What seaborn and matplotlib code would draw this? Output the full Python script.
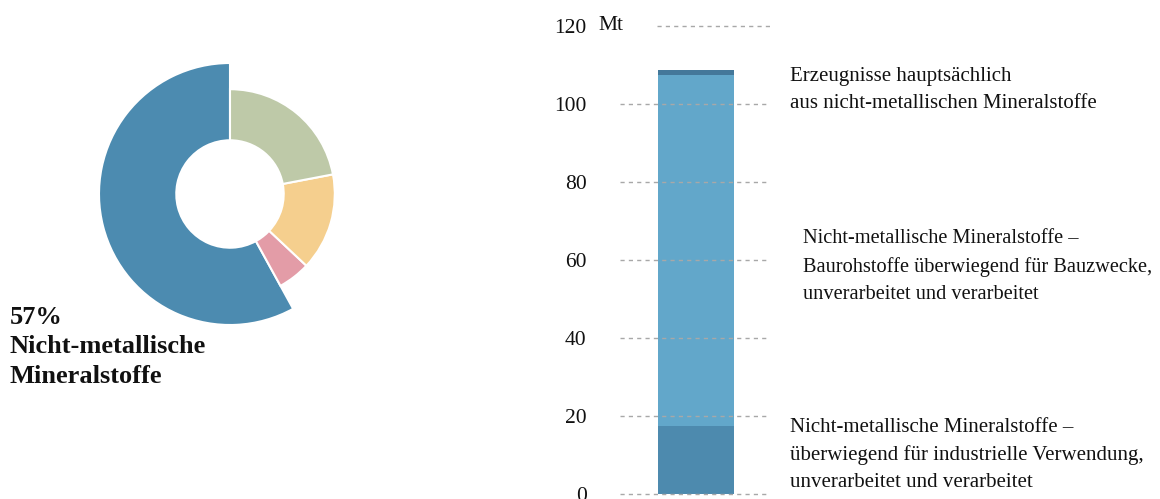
import numpy as np
import pandas as pd
import matplotlib.pyplot as plt
import seaborn as sns

# Donut: share of material groups (%), order counter-clockwise from 12 o'clock
donut_labels = ["Nicht-metallische Mineralstoffe", "Sonstige 1", "Sonstige 2", "Sonstige 3"]
donut_values = [58, 5, 15, 22]
donut_colors = ["#4c8bb0", "#e39ca7", "#f5cf8e", "#bec9a8"]
main_label = "57%\nNicht-metallische\nMineralstoffe"

# Stacked bar (Mt), bottom to top
bar_segments = ["industrielle Verwendung", "Baurohstoffe", "Erzeugnisse"]
bar_values = [17.4, 90.0, 1.3]
bar_colors = ["#4d8aae", "#62a7ca", "#44789a"]
y_ticks = [0, 20, 40, 60, 80, 100, 120]

seg_texts = [
    "Nicht-metallische Mineralstoffe –\nüberwiegend für industrielle Verwendung,\nunverarbeitet und verarbeitet",
    "Nicht-metallische Mineralstoffe –\nBaurohstoffe überwiegend für Bauzwecke,\nunverarbeitet und verarbeitet",
    "Erzeugnisse hauptsächlich\naus nicht-metallischen Mineralstoffe",
]

sns.set_style("white")
plt.rcParams['font.family'] = ['Liberation Serif', 'DejaVu Serif']

W, H = 1160, 499
fig = plt.figure(figsize=(W / 100, H / 100), dpi=100)

def px_box(x0, y0, x1, y1):
    # pixel box (top-left origin) -> figure fraction rect
    return [x0 / W, 1 - y1 / H, (x1 - x0) / W, (y1 - y0) / H]

# ---- Donut ----
cx, cy, r = 230, 194, 131
ax_d = fig.add_axes(px_box(cx - r, cy - r, cx + r, cy + r))
inner = 0.41
small = 0.80
big_cols = [donut_colors[0]] + ["none"] * 3
small_cols = ["none"] + donut_colors[1:]
ax_d.pie(donut_values, colors=big_cols, startangle=90, counterclock=True, radius=1.0,
         wedgeprops=dict(width=1.0 - inner, edgecolor="white", linewidth=1.5))
ax_d.pie(donut_values, colors=small_cols, startangle=90, counterclock=True, radius=small,
         wedgeprops=dict(width=small - inner, edgecolor="white", linewidth=1.5))
for p in ax_d.patches:
    if p.get_facecolor()[3] == 0:
        p.set_edgecolor("none")
ax_d.set_xlim(-1, 1)
ax_d.set_ylim(-1, 1)
ax_d.axis("off")

fig.text(10 / W, 1 - 306 / H, main_label, fontsize=19, fontweight="bold",
         ha="left", va="top", linespacing=1.36, color="#111111")

# ---- Stacked bar ----
ax = fig.add_axes(px_box(620, 26, 770, 494))
cum = np.cumsum(bar_values)
df = pd.DataFrame({"cat": ["gesamt"] * 3, "total": cum})
for i in range(len(cum) - 1, -1, -1):
    sns.barplot(data=df.iloc[[i]], x="cat", y="total", color=bar_colors[i],
                width=0.8, saturation=1, linewidth=0, edgecolor="none", ax=ax, zorder=1)
ax.set_xlim(-0.8, 0.779)
ax.set_ylim(0, 120)
ax.set_xlabel("")
ax.set_ylabel("")
ax.set_xticks([])
ax.set_yticks(y_ticks)
ax.set_yticklabels([str(t) for t in y_ticks], fontsize=15.5, color="#111111")
ax.tick_params(axis="y", length=0, pad=24)
for s in ax.spines.values():
    s.set_visible(False)
for t in y_ticks:
    x0 = 0.247 if t == 120 else 0.0
    ax.axhline(t, xmin=x0, xmax=0.98 if t < 120 else 1.0, color="#a8a8a8",
               linewidth=1, linestyle=(0, (3, 3)), zorder=3, clip_on=False)
fig.text(598 / W, 1 - 26 / H, "Mt", fontsize=15.5, ha="left", va="center", color="#111111")

# segment labels
fig.text(790 / W, 1 - 418 / H, seg_texts[0], fontsize=15, ha="left", va="top",
         linespacing=1.56, color="#111111")
fig.text(803 / W, 1 - 229 / H, seg_texts[1], fontsize=14.7, ha="left", va="top",
         linespacing=1.58, color="#111111")
fig.text(790 / W, 1 - 67 / H, seg_texts[2], fontsize=15, ha="left", va="top",
         linespacing=1.56, color="#111111")

fig.savefig("out.png", dpi=100)
